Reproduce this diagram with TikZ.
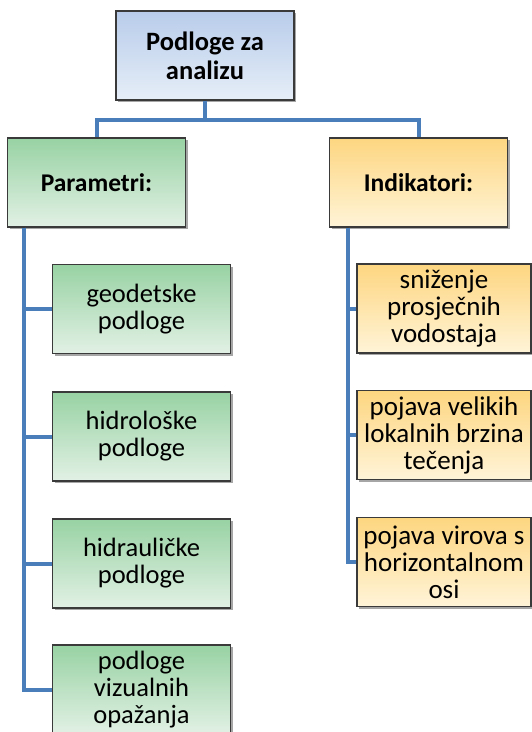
\documentclass[tikz,border=0pt]{standalone}
\usepackage{fontspec}
\setmainfont{Carlito}
\usetikzlibrary{shadows}
\definecolor{linkblue}{HTML}{4A7EBB}
\definecolor{bordergray}{HTML}{3A3A3A}
\definecolor{bluetop}{HTML}{B8CCEA}
\definecolor{bluebot}{HTML}{E6EEF8}
\definecolor{greentop}{HTML}{98D2A3}
\definecolor{greenbot}{HTML}{E2F1E5}
\definecolor{yellowtop}{HTML}{FDD680}
\definecolor{yellowbot}{HTML}{FFF4D8}
\tikzset{
  basebox/.style={draw=bordergray, line width=1.4pt, inner sep=0pt,
    minimum width=178pt, minimum height=89pt, align=center,
    drop shadow={shadow xshift=2pt, shadow yshift=-2pt, opacity=0.35, fill=black},
    font=\fontsize{26.5}{27}\selectfont},
  topbox/.style={basebox, top color=bluetop, bottom color=bluebot,
    font=\fontsize{26.5}{29}\selectfont\bfseries},
  parbox/.style={basebox, top color=greentop, bottom color=greenbot,
    font=\fontsize{25.5}{29}\selectfont\bfseries},
  indbox/.style={basebox, top color=yellowtop, bottom color=yellowbot,
    font=\fontsize{25.5}{29}\selectfont\bfseries},
  greenbox/.style={basebox, top color=greentop, bottom color=greenbot},
  yellowbox/.style={basebox, top color=yellowtop, bottom color=yellowbot,
    minimum width=174pt, font=\fontsize{27}{27}\selectfont},
  conn/.style={draw=linkblue, line width=4pt}
}
\begin{document}
\begin{tikzpicture}[x=1pt,y=-1pt]
\useasboundingbox (0,0) rectangle (532,732);
\fill[white] (0,0) rectangle (532,732);
\node[topbox] (top) at (205,55.5) {Podloge za\\analizu};
\node[parbox] (par) at (96.5,182.5) {Parametri:};
\node[indbox] (ind) at (418.5,182.5) {Indikatori:};
\node[greenbox] (g1) at (141.5,309) {geodetske\\podloge};
\node[greenbox] (g2) at (141.5,436.5) {hidrološke\\podloge};
\node[greenbox] (g3) at (141.5,563.5) {hidrauličke\\podloge};
\node[greenbox] (g4) at (141.5,689.5) {podloge\\vizualnih\\opažanja};
\node[yellowbox] (y1) at (444,308.5) {sniženje\\prosječnih\\vodostaja};
\node[yellowbox] (y2) at (444,435) {pojava velikih\\lokalnih brzina\\tečenja};
\node[yellowbox] (y3) at (444,562) {pojava virova s\\horizontalnom\\osi};
\draw[conn] (top.south) -- ++(0,19.5) -| (par.north);
\draw[conn] (top.south) -- ++(0,19.5) -| (ind.north);
\draw[conn] ([xshift=17.5pt]par.south west) |- (g1.west);
\draw[conn] ([xshift=17.5pt]par.south west) |- (g2.west);
\draw[conn] ([xshift=17.5pt]par.south west) |- (g3.west);
\draw[conn] ([xshift=17.5pt]par.south west) |- (g4.west);
\draw[conn] ([xshift=19pt]ind.south west) |- (y1.west);
\draw[conn] ([xshift=19pt]ind.south west) |- (y2.west);
\draw[conn] ([xshift=19pt]ind.south west) |- (y3.west);
\end{tikzpicture}
\end{document}
